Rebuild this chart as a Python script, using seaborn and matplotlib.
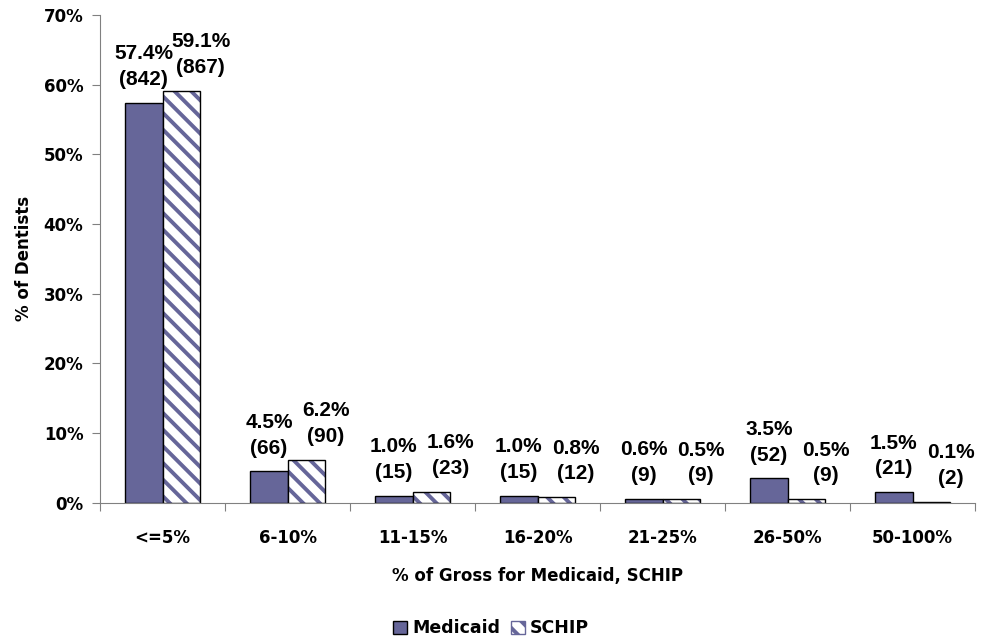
import pandas as pd
import seaborn as sns
import matplotlib.pyplot as plt
from matplotlib.patches import Patch, Rectangle

# values
categories = ['<=5%', '6-10%', '11-15%', '16-20%', '21-25%', '26-50%', '50-100%']
medicaid_pct = [57.4, 4.5, 1.0, 1.0, 0.6, 3.5, 1.5]
medicaid_n = [842, 66, 15, 15, 9, 52, 21]
schip_pct = [59.1, 6.2, 1.6, 0.8, 0.5, 0.5, 0.1]
schip_n = [867, 90, 23, 12, 9, 9, 2]
y_ticks = [0, 10, 20, 30, 40, 50, 60, 70]

bar_color = '#666699'
axis_color = '#808080'

df = pd.DataFrame({
    'Category': categories * 2,
    'Program': ['Medicaid'] * len(categories) + ['SCHIP'] * len(categories),
    'Percent': medicaid_pct + schip_pct,
})

sns.set_style('white')
plt.rcParams['font.family'] = ['DejaVu Sans']
plt.rcParams['font.weight'] = 'bold'
plt.rcParams['text.color'] = 'black'
plt.rcParams['axes.labelcolor'] = 'black'
plt.rcParams['xtick.color'] = 'black'
plt.rcParams['ytick.color'] = 'black'
plt.rcParams['hatch.linewidth'] = 2.8

fig = plt.figure(figsize=(9.82, 6.43), dpi=100)
ax = fig.add_axes([0.102, 0.218, 0.891, 0.759])

sns.barplot(data=df, x='Category', y='Percent', hue='Program',
            order=categories, hue_order=['Medicaid', 'SCHIP'],
            palette=[bar_color, 'white'], width=0.6, saturation=1,
            edgecolor='black', linewidth=1, ax=ax, legend=False)

# SCHIP bars: white with diagonal stripes (hatch takes the edge colour),
# then a black outline on top
for p in ax.containers[1]:
    p.set_facecolor('white')
    p.set_hatch('\\\\')
    p.set_edgecolor(bar_color)
    p.set_linewidth(0)
    ax.add_patch(Rectangle((p.get_x(), p.get_y()), p.get_width(), p.get_height(),
                           fill=False, edgecolor='black', linewidth=1, zorder=p.get_zorder() + 0.1))

# data labels
label_font = dict(family=['Liberation Sans', 'DejaVu Sans'], size=15, weight='bold')
for cont, pcts, ns, dx in [(ax.containers[0], medicaid_pct, medicaid_n, 0),
                           (ax.containers[1], schip_pct, schip_n, 14)]:
    for p, v, n in zip(cont, pcts, ns):
        ax.annotate(f'{v:.1f}%\n({n})', xy=(p.get_x() + p.get_width() / 2, p.get_height()),
                    xytext=(dx, 10), textcoords='offset points', ha='center', va='bottom',
                    linespacing=1.45, **label_font)

ax.set_ylim(0, 70)
ax.set_yticks(y_ticks)
ax.set_yticklabels([f'{t}%' for t in y_ticks], fontsize=12, fontweight='bold')
ax.set_xlim(-0.5, len(categories) - 0.5)

# category labels at centres, tick marks at the boundaries
ax.set_xticks([i for i in range(len(categories))], minor=True)
ax.set_xticklabels(categories, minor=True, fontsize=12, fontweight='bold')
ax.set_xticks([i - 0.5 for i in range(len(categories) + 1)])
ax.set_xticklabels([])
ax.tick_params(axis='x', which='minor', length=0, pad=19, labelsize=12)
ax.tick_params(axis='x', which='major', direction='out', length=6, color=axis_color, bottom=True)
ax.tick_params(axis='y', direction='out', length=6, color=axis_color, left=True, pad=6)

ax.set_xlabel('% of Gross for Medicaid, SCHIP', fontsize=12, fontweight='bold', labelpad=14)
ax.set_ylabel('% of Dentists', fontsize=12, fontweight='bold', labelpad=8)

sns.despine(ax=ax)
ax.spines['left'].set_color(axis_color)
ax.spines['bottom'].set_color(axis_color)

handles = [Patch(facecolor=bar_color, edgecolor='black', linewidth=1, label='Medicaid'),
           Patch(facecolor='white', edgecolor=bar_color, hatch='\\\\', linewidth=1, label='SCHIP')]
fig.legend(handles=handles, loc='center', bbox_to_anchor=(0.5, 0.023), ncol=2, frameon=False,
           handlelength=0.8, handleheight=0.8, handletextpad=0.3, columnspacing=0.6,
           prop={'weight': 'bold', 'size': 12.5})

plt.savefig('out.png', dpi=100)
